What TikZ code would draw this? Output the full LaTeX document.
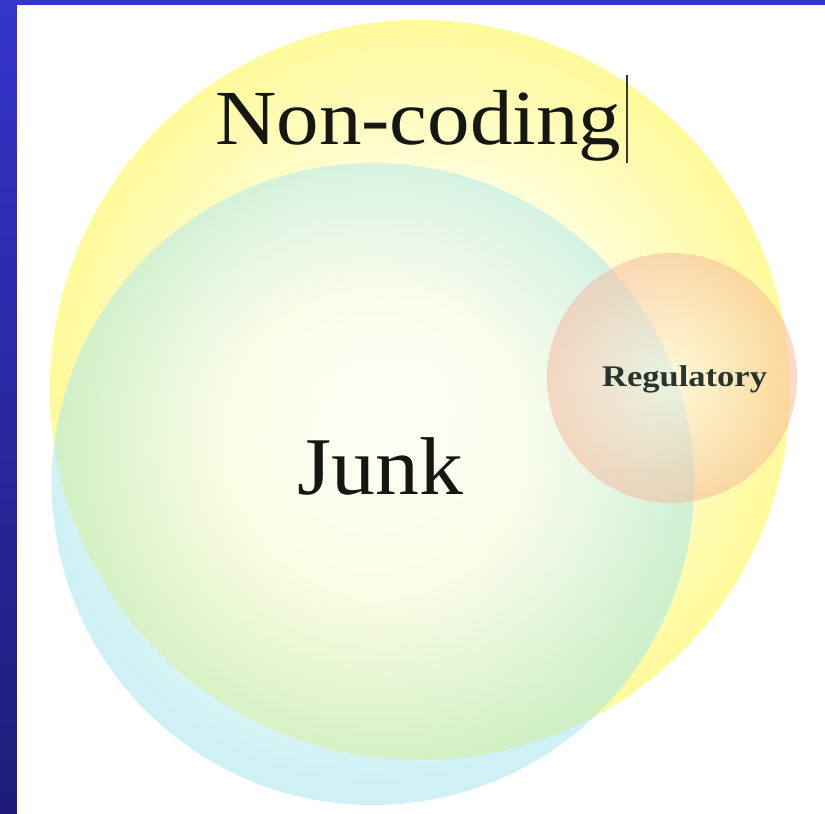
\documentclass[tikz,border=0pt]{standalone}
\usepackage{fontspec}
\setmainfont{Liberation Serif}
\usepackage{graphicx}
\definecolor{blueA}{HTML}{3434CA}
\definecolor{blueB}{HTML}{1E1C78}
\definecolor{yc0}{HTML}{FFFEF4}
\definecolor{yc1}{HTML}{FFFDDC}
\definecolor{yc2}{HTML}{FFFA9A}
\definecolor{cy1}{HTML}{F6FCEE}
\definecolor{cy2}{HTML}{A4E6EC}
\definecolor{rd0}{HTML}{FFF6E6}
\definecolor{rd1}{HTML}{F6B69A}
\definecolor{txt}{HTML}{161612}
\definecolor{regtxt}{HTML}{28342E}
\definecolor{cursorc}{HTML}{3A3A2C}
\pgfdeclareradialshading{yshade}{\pgfpoint{0bp}{0bp}}{color(0bp)=(yc0); color(14bp)=(yc1); color(25bp)=(yc2); color(50bp)=(yc2)}
\pgfdeclareradialshading{cshade}{\pgfpoint{0bp}{4bp}}{color(0bp)=(white); color(12bp)=(cy1); color(25bp)=(cy2); color(50bp)=(cy2)}
\pgfdeclareradialshading{rshade}{\pgfpoint{0bp}{0bp}}{color(0bp)=(rd0); color(25bp)=(rd1); color(50bp)=(rd1)}
\tikzset{
  setcircle/.style={draw=none},
  bigtext/.style={text=txt, inner sep=0pt, anchor=base west},
}
\begin{document}
\begin{tikzpicture}[x=1pt,y=1pt]
\useasboundingbox (0,0) rectangle (825,814);
% background frame
\shade[top color=blueA, bottom color=blueB] (0,0) rectangle (825,814);
\fill[white] (17,0) rectangle (825,809);
% Non-coding set
\shade[setcircle, shading=yshade] (420,424) circle[radius=370pt];
% Junk set
\shade[setcircle, shading=cshade, opacity=0.52] (373,330) circle[radius=321pt];
% Regulatory set
\shade[setcircle, shading=rshade, opacity=0.5] (672,436) circle[radius=125pt];
% labels
\node[bigtext] (noncoding) at (215,669) {\fontsize{78}{80}\selectfont\scalebox{1.09}[1]{Non-coding}};
\coordinate (curtop) at (627,739);
\coordinate (curbot) at (627,651);
\draw[cursorc, line width=2pt] (curtop) -- (curbot);
\node[bigtext] (junk) at (297,319) {\fontsize{82}{84}\selectfont\scalebox{1.07}[1]{Junk}};
\node[inner sep=0pt, anchor=base west, text=regtxt] (reg) at (602,427) {\fontsize{30}{32}\selectfont\bfseries\scalebox{1.15}[1]{Regulatory}};
\end{tikzpicture}
\end{document}
